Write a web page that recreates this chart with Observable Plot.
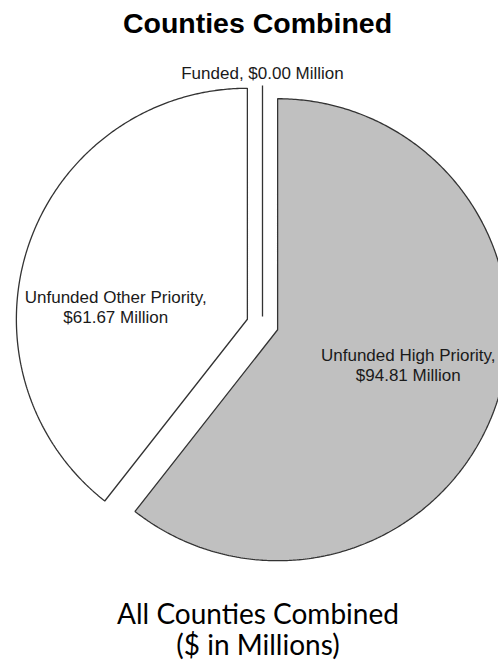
<!DOCTYPE html>
<html><head><meta charset="utf-8">
<script src="https://cdn.jsdelivr.net/npm/d3@7"></script>
<script src="https://cdn.jsdelivr.net/npm/@observablehq/plot@0.6"></script>
<style>
html,body{margin:0;padding:0;background:#fff;overflow:hidden;}
#wrap{position:relative;width:498px;height:666px;}
#title{position:absolute;left:0;top:1px;width:498px;padding-left:17px;box-sizing:border-box;text-align:center;font:bold 28.5px "Liberation Sans",Arial,sans-serif;line-height:44px;color:#000;white-space:nowrap;}
#chart{position:absolute;left:0;top:44px;}
#caption{position:absolute;left:0;top:598px;width:498px;padding-left:18px;box-sizing:border-box;text-align:center;font:28px Lato,sans-serif;line-height:31px;color:#000;white-space:nowrap;}
</style></head><body>
<div id="wrap">
  <div id="title">Counties Combined</div>
  <div id="chart"></div>
  <div id="caption">All Counties Combined<br>($ in Millions)</div>
</div>
<script>
// ---- data ----
const categories = ["Funded", "Unfunded High Priority", "Unfunded Other Priority"];
const values = [0.00, 94.81, 61.67];
const labelText = ["Funded, $0.00 Million", "Unfunded High Priority,\n$94.81 Million", "Unfunded Other Priority,\n$61.67 Million"];
const sliceColors = ["#ffffff", "#c0c0c0", "#ffffff"];

// ---- layout ----
const W = 498, H = 536;
const cx = 262, cy = 280;     // pie centre in svg pixels
const R = 231;
const explode = {"Funded": 8, "Unfunded High Priority": 16, "Unfunded Other Priority": 16};
const labelNudge = {"Funded": [0, 0], "Unfunded High Priority": [4, -9], "Unfunded Other Priority": [-5, 31]};

const arcs = d3.pie().sort(null).value(d => d)(values);
const dir = a => [Math.sin(a), Math.cos(a)];

const slices = arcs.map((p, i) => {
  const cat = categories[i];
  const mid = (p.startAngle + p.endAngle) / 2;
  const [mx, my] = dir(mid);
  const apex = [explode[cat] * mx, explode[cat] * my];
  return {category: cat, value: values[i], label: labelText[i], a0: p.startAngle, a1: p.endAngle, mid, apex};
});

const points = [];
for (const s of slices) {
  points.push({category: s.category, x: s.apex[0], y: s.apex[1]});
  const span = s.a1 - s.a0;
  const n = span < 1e-9 ? 0 : Math.max(2, Math.ceil(span / (Math.PI / 360)));
  for (let k = 0; k <= n; k++) {
    const a = n === 0 ? s.a0 : s.a0 + span * k / n;
    const [dx, dy] = dir(a);
    points.push({category: s.category, x: s.apex[0] + R * dx, y: s.apex[1] + R * dy});
  }
}

const labels = slices.map(s => {
  const [mx, my] = dir(s.mid);
  const r = s.value === 0 ? R + 13 : 0.58 * R;
  const [nx, ny] = labelNudge[s.category];
  return {category: s.category, label: s.label, x: s.apex[0] + r * mx + nx, y: s.apex[1] + r * my - ny};
});

const chart = Plot.plot({
  width: W, height: H,
  margin: 0, inset: 0,
  x: {domain: [-cx, W - cx], range: [0, W], axis: null},
  y: {domain: [-(H - cy), cy], range: [H, 0], axis: null},
  color: {domain: categories, range: sliceColors},
  style: {background: "white", overflow: "hidden"},
  marks: [
    Plot.line(points, {x: "x", y: "y", z: "category", fill: "category", stroke: "#333", strokeWidth: 1.3, curve: "linear-closed", strokeLinejoin: "miter", clip: true}),
    Plot.text(labels, {x: "x", y: "y", text: "label", fontSize: 17, fontFamily: "Liberation Sans, Arial, sans-serif", fill: "#1a1a1a", lineHeight: 1.2, textAnchor: "middle"})
  ]
});
document.getElementById("chart").appendChild(chart);
</script>
</body></html>
